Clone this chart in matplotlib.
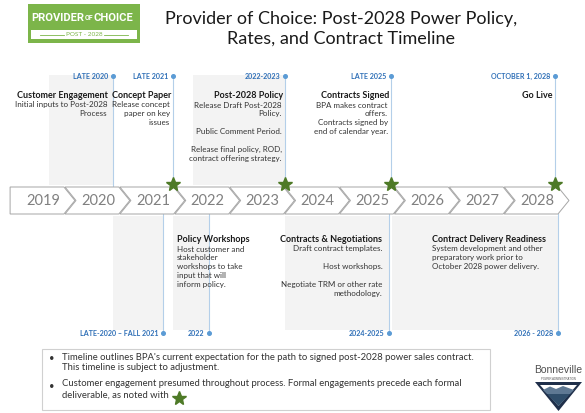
import matplotlib
matplotlib.use('Agg')
import matplotlib.pyplot as plt
from matplotlib.patches import Polygon, Rectangle

plt.rcParams['font.family'] = ['Lato', 'DejaVu Sans']

# timeline years
years = list(range(2019, 2029))

# milestones above the arrow row (time in fractional years)
top_when = [2020.78, 2021.87, 2023.91, 2025.84, 2028.83]
top_date = ['LATE 2020', 'LATE 2021', '2022-2023', 'LATE 2025', 'OCTOBER 1, 2028']
top_title = ['Customer Engagement', 'Concept Paper', 'Post-2028 Policy',
             'Contracts Signed', 'Go Live']
top_body = ['Initial inputs to Post-2028\nProcess',
            'Release concept\npaper on key\nissues',
            'Release Draft Post-2028\nPolicy.\n\nPublic Comment Period.\n\n'
            'Release final policy, ROD,\ncontract offering strategy.',
            'BPA makes contract\noffers.\nContracts signed by\nend of calendar year.',
            '']
top_star = [False, True, True, True, True]
top_pad = [0.09, 0.04, 0.04, 0.04, 0.05]

# milestones below the arrow row
bot_when = [2021.69, 2022.52, 2025.80, 2028.88]
bot_date = ['LATE-2020 \u2013 FALL 2021', '2022', '2024-2025', '2026 - 2028']

# shaded periods
top_shade = [(2019.60, 2020.78), (2022.23, 2023.91)]
bot_shade = [(2020.78, 2021.69), (2021.87, 2022.52), (2023.91, 2025.80), (2025.86, 2028.88)]

# text blocks below the row
bot_title = ['Policy Workshops', 'Contracts & Negotiations', 'Contract Delivery Readiness']
bot_body = ['Host customer and\nstakeholder\nworkshops to take\ninput that will\ninform policy.',
            'Draft contract templates.\n\nHost workshops.\n\nNegotiate TRM or other rate\nmethodology.',
            'System development and other\npreparatory work prior to\nOctober 2028 power delivery.']
bot_x = [2021.94, 2025.68, 2026.58]
bot_ha = ['left', 'right', 'left']

notes = ["Timeline outlines BPA's current expectation for the path to signed post-2028 power sales contract.\n"
         "This timeline is subject to adjustment.",
         "Customer engagement presumed throughout process. Formal engagements precede each formal\n"
         "deliverable, as noted with"]

blue = '#2e6fb7'
dotc = '#5b9bd5'
linec = '#b4cfe9'
star_c = '#4e7a27'
shade = '#f3f3f3'

fig = plt.figure(figsize=(5.85, 4.13), dpi=100)
# page layer in pixel units
lay = fig.add_axes([0, 0, 1, 1])
lay.set_xlim(0, 585)
lay.set_ylim(413, 0)
lay.axis('off')
# timeline layer, x in years
ax = fig.add_axes([0, 0, 1, 1])
ax.set_xlim(2018.716, 2029.372)
ax.set_ylim(413, 0)
ax.axis('off')
ax.patch.set_alpha(0)

# shaded boxes
for a, b in top_shade:
    ax.add_patch(Rectangle((a, 75), b - a, 110, fc=shade, ec='none', zorder=0))
for a, b in bot_shade:
    ax.add_patch(Rectangle((a, 216), b - a, 114, fc=shade, ec='none', zorder=0))

# chevrons
top, bot, mid = 187, 214, 200.5
for i, y in enumerate(years):
    left, right, d = y - 0.1, y + 0.88, 0.2
    pts = [(left, top), (right, top), (right + d, mid), (right, bot), (left, bot)]
    if i > 0:
        pts.append((left + d, mid))
    ax.add_patch(Polygon(pts, closed=True, fc='white', ec='#a6a6a6', lw=0.7, zorder=2))
    ax.text(y + 0.5, mid + 0.5, str(y), ha='center', va='center', fontsize=10.5,
            color='#808080', zorder=3)

# top milestones
for t, dt, ti, bd, st, p in zip(top_when, top_date, top_title, top_body, top_star, top_pad):
    ax.plot([t, t], [76, top], color=linec, lw=0.8, zorder=1)
    ax.plot(t, 76, 'o', ms=2.6, color=dotc, zorder=3)
    ax.text(t - 0.09, 76.5, dt, ha='right', va='center', fontsize=5.1, color=blue,
            fontweight='bold')
    ax.text(t - p, 96, ti, ha='right', va='center', fontsize=6.5, fontweight='bold',
            color='#1a1a1a')
    if bd:
        ax.text(t - p - 0.02, 101.5, bd, ha='right', va='top', fontsize=5.8, color='#333333',
                linespacing=1.33)
    if st:
        ax.plot(t, 184, marker='*', ms=10.5, color=star_c, mec=star_c, zorder=5)

# bottom milestones
for t, dt in zip(bot_when, bot_date):
    ax.plot([t, t], [bot, 333], color=linec, lw=0.8, zorder=1)
    ax.plot(t, 333, 'o', ms=2.6, color=dotc, zorder=3)
    ax.text(t - 0.09, 333.5, dt, ha='right', va='center', fontsize=5.1, color=blue,
            fontweight='bold')

for x, ha, ti, bd in zip(bot_x, bot_ha, bot_title, bot_body):
    ax.text(x, 240, ti, ha=ha, va='center', fontsize=6.5, fontweight='bold', color='#1a1a1a')
    ax.text(x, 245.5, bd, ha=ha, va='top', fontsize=5.8, color='#333333', linespacing=1.33,
            multialignment=ha)

# title
lay.text(341, 29, 'Provider of Choice: Post-2028 Power Policy,\nRates, and Contract Timeline',
         ha='center', va='center', fontsize=13, color='#1a1a1a', linespacing=1.3)

# provider of choice badge
lay.add_patch(Rectangle((28, 4), 112, 39, fc='#7cb54a', ec='none'))
lay.add_patch(Rectangle((31, 30), 106, 9, fc='white', ec='none'))
lay.text(84, 18, 'PROVIDER', ha='right', va='center', fontsize=8, fontweight='bold',
         color='white', family='Roboto')
lay.text(84.5, 18.5, 'OF', ha='left', va='center', fontsize=5, fontweight='bold',
         color='white', family='Roboto')
lay.text(93, 18, 'CHOICE', ha='left', va='center', fontsize=8, fontweight='bold',
         color='white', family='Roboto')
lay.text(84, 34.8, 'POST - 2028', ha='center', va='center', fontsize=4.6, color='#7cb54a')
lay.plot([40, 64], [34.8, 34.8], color='#7cb54a', lw=0.6)
lay.plot([104, 128], [34.8, 34.8], color='#7cb54a', lw=0.6)

# notes box
lay.add_patch(Rectangle((42, 349), 448, 61, fc='white', ec='#d0d0d0', lw=0.8))
for yy, txt in zip([352.5, 379.5], notes):
    lay.text(49, yy + 2, '\u2022', ha='left', va='top', fontsize=6.8, color='#333333')
    lay.text(62, yy, txt, ha='left', va='top', fontsize=6.8, color='#333333', linespacing=1.25)
lay.plot(179, 397.5, marker='*', ms=10, color=star_c, mec=star_c)

# Bonneville logo
lay.text(558, 370, 'Bonneville', ha='center', va='center', fontsize=7.5, color='#505050',
         family='Liberation Sans')
lay.text(558, 378.5, 'POWER ADMINISTRATION', ha='center', va='center', fontsize=2,
         color='#505050', family='Liberation Sans')
lay.add_patch(Polygon([(535, 382), (582, 382), (558.5, 411)], closed=True, fc='#1f2f4a', ec='none'))
lay.add_patch(Polygon([(540, 385), (577, 385), (558.5, 406)], closed=True, fc='white', ec='none'))
lay.add_patch(Polygon([(543, 390), (550, 386.5), (556, 389), (563, 386), (574, 390),
                       (570, 394), (547, 394)], closed=True, fc='#5e7893', ec='none'))
lay.add_patch(Polygon([(547, 394), (570, 394), (558.5, 406)], closed=True, fc='#2f4d6a', ec='none'))

fig.savefig('out.png', dpi=100)
